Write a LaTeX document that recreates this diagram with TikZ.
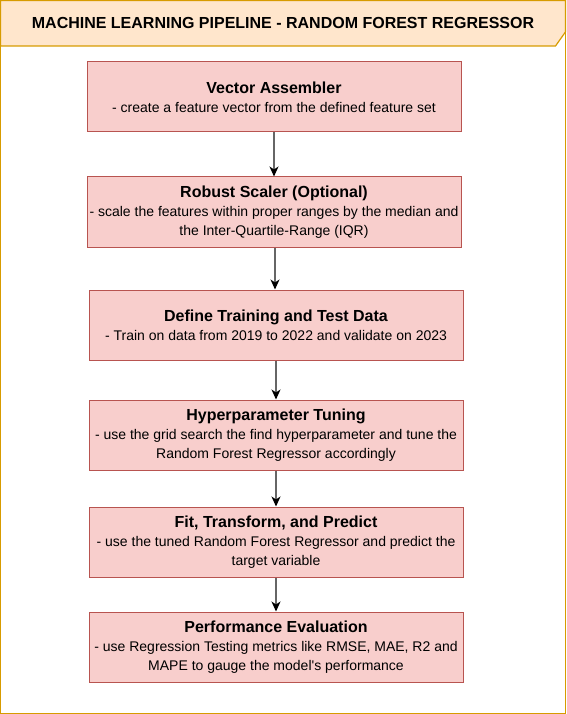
\documentclass[tikz,border=0pt]{standalone}
\usepackage{fontspec}
\setmainfont{Liberation Sans}
\usetikzlibrary{arrows.meta}
\definecolor{titlefill}{HTML}{FFE6CC}
\definecolor{titledraw}{HTML}{D79B00}
\definecolor{boxfill}{HTML}{F8CECC}
\definecolor{boxdraw}{HTML}{B85450}
\begin{document}
\begin{tikzpicture}[x=1pt,y=-1pt,
  stepbox/.style={draw=boxdraw,fill=boxfill,line width=1pt,minimum width=374pt,minimum height=70pt,align=center,inner sep=0pt,font=\fontsize{14}{19}\selectfont},
  flow/.style={draw=black!60,line width=1.2pt,-{Stealth[length=10pt,width=9pt,inset=3pt,black]}}]
\useasboundingbox (0,0) rectangle (566,714);
% outer frame
\draw[titledraw,line width=1.2pt] (0.6,0.6) rectangle (565.4,713.4);
% title bar
\draw[titledraw,fill=titlefill,line width=1.2pt] (0.6,0.6) -- (565.4,0.6) -- (565.4,32) -- (555.5,46) -- (0.6,46) -- cycle;
\node[font=\fontsize{16}{18}\selectfont\bfseries] (title) at (283,22.5) {MACHINE LEARNING PIPELINE - RANDOM FOREST REGRESSOR};
% boxes
\node[stepbox] (b1) at (274,97) {{\fontsize{16}{21}\selectfont\bfseries Vector Assembler}\\- create a feature vector from the defined feature set};
\node[stepbox] (b2) at (274,212) {{\fontsize{16}{19}\selectfont\bfseries Robust Scaler (Optional)}\\- scale the features within proper ranges by the median and\\the Inter-Quartile-Range (IQR)};
\node[stepbox] (b3) at (276,325) {{\fontsize{16}{21}\selectfont\bfseries Define Training and Test Data}\\- Train on data from 2019 to 2022 and validate on 2023};
\node[stepbox] (b4) at (276,435) {{\fontsize{16}{19}\selectfont\bfseries Hyperparameter Tuning}\\- use the grid search the find hyperparameter and tune the\\Random Forest Regressor accordingly};
\node[stepbox] (b5) at (276,542) {{\fontsize{16}{19}\selectfont\bfseries Fit, Transform, and Predict}\\- use the tuned Random Forest Regressor and predict the\\target variable};
\node[stepbox] (b6) at (276,647) {{\fontsize{16}{19}\selectfont\bfseries Performance Evaluation}\\- use Regression Testing metrics like RMSE, MAE, R2 and\\MAPE to gauge the model\textquotesingle s performance};
% connectors
\draw[flow] (b1.south) -- (b2.north);
\draw[flow] ([xshift=1pt]b2.south) -- ([xshift=-1pt]b3.north);
\draw[flow] (b3) -- (b4);
\draw[flow] (b4) -- (b5);
\draw[flow] (b5) -- (b6);
\end{tikzpicture}
\end{document}
